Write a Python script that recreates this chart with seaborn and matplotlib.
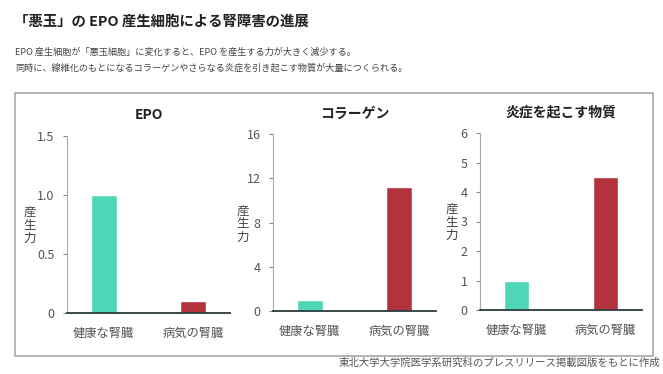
import matplotlib
matplotlib.use("Agg")
import matplotlib.pyplot as plt
import seaborn as sns
import pandas as pd
from matplotlib.patches import Rectangle

sns.set_theme(style="white")
plt.rcParams['font.family'] = ['Noto Sans CJK JP', 'DejaVu Sans']

categories = ["健康な腎臓", "病気の腎臓"]
panel_titles = ["EPO", "コラーゲン", "炎症を起こす物質"]
epo_values = [1.0, 0.1]
collagen_values = [1.0, 11.2]
inflam_values = [1.0, 4.5]
epo_ticks = [0, 0.5, 1.0, 1.5]
epo_ticklabels = ["0", "0.5", "1.0", "1.5"]
collagen_ticks = [0, 4, 8, 12, 16]
inflam_ticks = [0, 1, 2, 3, 4, 5, 6]
ylabel = "産\n生\n力"
colors = ["#4fd6b6", "#b3323c"]

title = "「悪玉」の EPO 産生細胞による腎障害の進展"
sub1 = "EPO 産生細胞が「悪玉細胞」に変化すると、EPO を産生する力が大きく減少する。"
sub2 = "同時に、線維化のもとになるコラーゲンやさらなる炎症を引き起こす物質が大量につくられる。"
source = "東北大学大学院医学系研究科のプレスリリース掲載図版をもとに作成"

W, H = 663, 374
fig = plt.figure(figsize=(W / 100, H / 100), dpi=100)
fig.patch.set_facecolor("white")

def px(x, y):
    return x / W, 1 - y / H

# frame
fig.add_artist(Rectangle(px(15, 356), 638 / W, 263 / H, transform=fig.transFigure,
                         fill=False, edgecolor="#a0a0a0", linewidth=1.1))

fig.text(*px(14, 22), title, fontsize=10.4, fontweight="bold", color="#222222",
         ha="left", va="center")
fig.text(*px(15, 52), sub1, fontsize=6.6, color="#444444", ha="left", va="center")
fig.text(*px(15, 68), sub2, fontsize=6.6, color="#444444", ha="left", va="center")
fig.text(*px(660, 363), source, fontsize=7.5, color="#555555", ha="right", va="center")

panels = [
    dict(vals=epo_values, ticks=epo_ticks, labels=epo_ticklabels, ymax=1.5,
         box=(67, 230, 313, 136), ylab=(30, 225)),
    dict(vals=collagen_values, ticks=collagen_ticks, labels=[str(t) for t in collagen_ticks], ymax=16,
         box=(273, 436, 311, 134), ylab=(243, 224)),
    dict(vals=inflam_values, ticks=inflam_ticks, labels=[str(t) for t in inflam_ticks], ymax=6,
         box=(480, 642, 310, 133), ylab=(452, 222)),
]

for p, ttl in zip(panels, panel_titles):
    l, r, b, t = p["box"]
    ax = fig.add_axes([l / W, 1 - b / H, (r - l) / W, (b - t) / H])
    df = pd.DataFrame({"cat": categories, "val": p["vals"]})
    sns.barplot(data=df, x="cat", y="val", hue="cat", palette=colors, width=0.29,
                legend=False, ax=ax, saturation=1)
    ax.set_xlim(-0.41, 1.41)
    ax.set_ylim(0, p["ymax"])
    ax.set_yticks(p["ticks"])
    ax.set_yticklabels(p["labels"])
    ax.set_xlabel("")
    ax.set_ylabel("")
    ax.set_facecolor("white")
    for s in ["top", "right"]:
        ax.spines[s].set_visible(False)
    ax.spines["left"].set_color("#aaaaaa")
    ax.spines["left"].set_linewidth(0.8)
    ax.spines["bottom"].set_color("#2a3a3a")
    ax.spines["bottom"].set_linewidth(1.3)
    ax.tick_params(axis="y", left=True, length=3, width=0.8, color="#888888",
                   labelsize=9, labelcolor="#555555", pad=6)
    ax.tick_params(axis="x", bottom=False, labelsize=8.8, labelcolor="#555555", pad=4)
    ax.set_title(ttl, fontsize=10, fontweight="bold", color="#222222", pad=12)
    fig.text(*px(*p["ylab"]), ylabel, fontsize=9, color="#444444", ha="center",
             va="center", linespacing=1.0)

fig.savefig("out.png", dpi=100, facecolor="white")
